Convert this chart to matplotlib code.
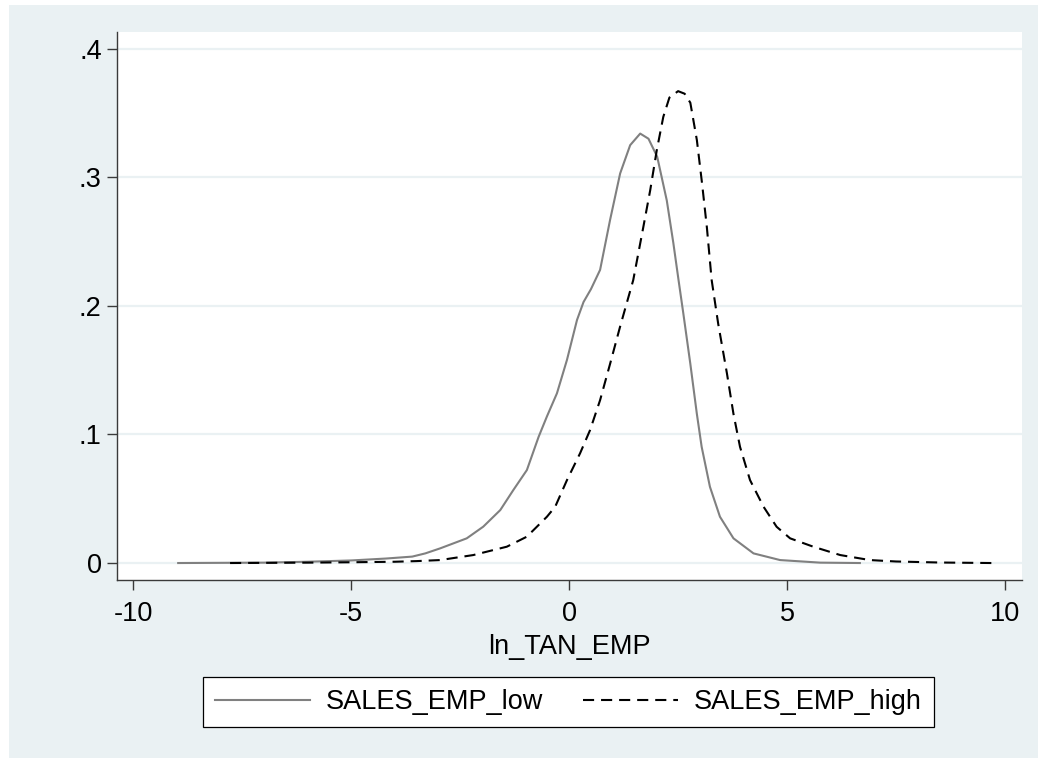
import matplotlib
matplotlib.use("Agg")
import matplotlib.pyplot as plt
from matplotlib.patches import Rectangle

# ---- data ----
low_x = [-8.97, -7.0, -6.0, -5.0, -4.2, -3.6, -3.3, -2.96, -2.35, -1.97, -1.58, -1.28,
         -0.97, -0.70, -0.51, -0.28, -0.05, 0.18, 0.33, 0.50, 0.71, 0.94, 1.17, 1.40, 1.63,
         1.82, 2.02, 2.24, 2.39, 2.51, 2.62, 2.78, 2.93, 3.04, 3.23, 3.46, 3.77, 4.23,
         4.84, 5.76, 6.67]
low_y = [0.0, 0.0003, 0.001, 0.002, 0.0035, 0.005, 0.0075, 0.0114, 0.0192, 0.0283, 0.0412,
         0.0568, 0.0723, 0.0982, 0.114, 0.132, 0.158, 0.189, 0.203, 0.213, 0.228, 0.267, 0.303,
         0.325, 0.334, 0.330, 0.316, 0.282, 0.249, 0.220, 0.194, 0.155, 0.116, 0.0904,
         0.0593, 0.036, 0.0192, 0.0075, 0.0023, 0.0003, 0.0]

high_x = [-7.78, -6.0, -5.0, -4.0, -3.5, -2.96, -2.2, -1.43, -0.97, -0.51, -0.32, -0.05,
          0.25, 0.48, 0.71, 0.94, 1.17, 1.32, 1.47, 1.70, 1.86, 2.01, 2.16, 2.30, 2.50,
          2.65, 2.78, 2.93, 3.05, 3.16, 3.27, 3.42, 3.62, 3.77, 3.92, 4.15, 4.46, 4.76,
          5.07, 5.60, 6.22, 6.90, 7.50, 8.50, 9.69]
high_y = [0.0, 0.0003, 0.0006, 0.001, 0.0015, 0.0023, 0.0062, 0.0127, 0.0205, 0.036,
          0.0438, 0.0645, 0.0853, 0.1034, 0.1267, 0.155, 0.184, 0.202, 0.220, 0.261, 0.29,
          0.321, 0.347, 0.362, 0.367, 0.365, 0.358, 0.329, 0.295, 0.261, 0.220, 0.186,
          0.1475, 0.116, 0.0904, 0.0645, 0.0438, 0.0282, 0.0192, 0.0127, 0.0062, 0.0023,
          0.0012, 0.0004, 0.0]

x_ticks = [-10, -5, 0, 5, 10]
x_tick_labels = ["-10", "-5", "0", "5", "10"]
y_ticks = [0, 0.1, 0.2, 0.3, 0.4]
y_tick_labels = ["0", ".1", ".2", ".3", ".4"]
series_labels = ["SALES_EMP_low", "SALES_EMP_high"]
x_label = "ln_TAN_EMP"

# ---- style ----
plt.rcParams['font.family'] = ['Liberation Sans', 'DejaVu Sans']
plt.rcParams['lines.scale_dashes'] = False
BG = "#EAF1F3"
FS = 19.5

W, H = 1038, 758
fig = plt.figure(figsize=(W / 100, H / 100), dpi=100, facecolor="white")
fig.patches.append(Rectangle((9 / W, 0), 1 - 9 / W, 1 - 5 / H, transform=fig.transFigure,
                             facecolor=BG, edgecolor="none", zorder=-10))

ax = fig.add_axes([117 / W, 1 - 580 / H, (1022 - 117) / W, (580 - 32) / H])
ax.set_facecolor("white")

ax.plot(low_x, low_y, color="#808080", lw=1.5, label=series_labels[0], zorder=3)
ax.plot(high_x, high_y, color="black", lw=1.5, dashes=(8, 5), label=series_labels[1], zorder=3)

ax.set_xlim(-10.374, 10.39)
ax.set_ylim(-0.0132, 0.413)
ax.set_xticks(x_ticks)
ax.set_xticklabels(x_tick_labels)
ax.set_yticks(y_ticks)
ax.set_yticklabels(y_tick_labels)

ax.grid(axis="y", color=BG, lw=1.6, zorder=0)
ax.set_axisbelow(True)

for s in ["top", "right"]:
    ax.spines[s].set_visible(False)
for s in ["left", "bottom"]:
    ax.spines[s].set_color("#3a3a3a")
    ax.spines[s].set_linewidth(1.0)

ax.tick_params(axis="both", direction="out", length=7, width=1.0, color="#3a3a3a",
               labelsize=FS, labelcolor="black")
ax.tick_params(axis="y", pad=4)
ax.tick_params(axis="x", pad=8)

ax.set_xlabel(x_label, fontsize=FS, labelpad=5)

handles, labels = ax.get_legend_handles_labels()
leg = fig.legend(handles, labels, loc="upper center",
                 bbox_to_anchor=(568.5 / W, 1 - 677 / H), ncol=2, fontsize=FS,
                 frameon=True, fancybox=False, edgecolor="black", facecolor="white",
                 framealpha=1, borderaxespad=0, handlelength=3.5, handletextpad=0.6,
                 columnspacing=1.45, borderpad=0.45)
leg.get_frame().set_linewidth(0.9)

fig.savefig("out.png", dpi=100, facecolor=fig.get_facecolor())
